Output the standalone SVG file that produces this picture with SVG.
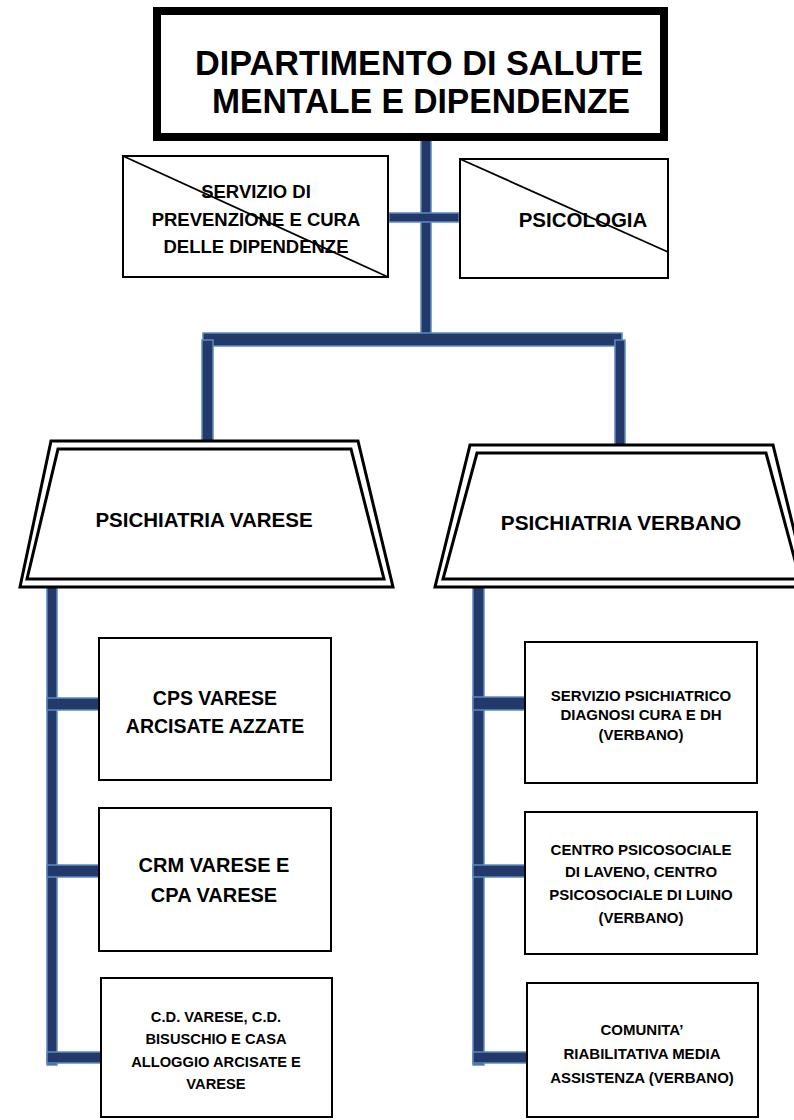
<svg xmlns="http://www.w3.org/2000/svg" width="794" height="1120" viewBox="0 0 794 1120">
<style>
.t{font-family:"Liberation Sans",Arial,sans-serif;font-weight:bold;fill:#000;text-anchor:middle}
.box{fill:#fff;stroke:#000;stroke-width:2}
.bar{fill:#23396a;stroke:#5b8ac0;stroke-width:1.5}
.trap{fill:none;stroke:#000;stroke-width:3}
.diag{stroke:#000;stroke-width:1.8}
</style>
<rect width="794" height="1120" fill="#fff"/>
<g id="connectors">
<rect class="bar" x="421" y="138" width="10" height="197"/>
<rect class="bar" x="389" y="213" width="70" height="9"/>
<rect class="bar" x="203" y="333" width="419" height="13"/>
<rect class="bar" x="202" y="340" width="11" height="104"/>
<rect class="bar" x="615" y="340" width="10" height="109"/>
<rect class="bar" x="47" y="586" width="10" height="479"/>
<rect class="bar" x="47" y="698" width="52" height="12"/>
<rect class="bar" x="47" y="865" width="52" height="12"/>
<rect class="bar" x="47" y="1052" width="54" height="11"/>
<rect class="bar" x="473" y="586" width="11" height="479"/>
<rect class="bar" x="473" y="697" width="52" height="13"/>
<rect class="bar" x="473" y="865" width="52" height="12"/>
<rect class="bar" x="473" y="1052" width="54" height="11"/>
</g>
<g id="dipartimento">
<rect x="157" y="11" width="507" height="126" fill="#fff" stroke="#000" stroke-width="8"/>
<text class="t" x="419" y="75" font-size="35" textLength="448" lengthAdjust="spacingAndGlyphs">DIPARTIMENTO DI SALUTE</text>
<text class="t" x="421" y="113" font-size="35" textLength="418" lengthAdjust="spacingAndGlyphs">MENTALE E DIPENDENZE</text>
</g>
<g id="servizio-dipendenze">
<rect class="box" x="123" y="156" width="265" height="121"/>
<line class="diag" x1="123" y1="156" x2="388" y2="277"/>
<text class="t" x="256" y="198" font-size="18.5">SERVIZIO DI</text>
<text class="t" x="256" y="226" font-size="18.5">PREVENZIONE E CURA</text>
<text class="t" x="256" y="253" font-size="18.5">DELLE DIPENDENZE</text>
</g>
<g id="psicologia">
<rect class="box" x="460" y="159" width="208" height="119"/>
<line class="diag" x1="460" y1="159" x2="668" y2="252"/>
<text class="t" x="583" y="227" font-size="20.5">PSICOLOGIA</text>
</g>
<g id="psichiatria-varese">
<polygon points="51,441 358,441 393,587 20,587" fill="#fff" stroke="none"/>
<polygon class="trap" points="51,441 358,441 393,587 20,587"/>
<polygon class="trap" points="58,449 351,449 384,579 27,579"/>
<text class="t" x="204" y="527" font-size="20.5">PSICHIATRIA VARESE</text>
</g>
<g id="psichiatria-verbano">
<polygon points="470,445 773,445 808,587 435,587" fill="#fff" stroke="none"/>
<polygon class="trap" points="470,445 773,445 808,587 435,587"/>
<polygon class="trap" points="477,453 766,453 800,579 443,579"/>
<text class="t" x="621" y="530" font-size="20.8">PSICHIATRIA VERBANO</text>
</g>
<g id="cps-varese">
<rect class="box" x="99" y="638" width="232" height="142"/>
<text class="t" x="215" y="705" font-size="19.5">CPS VARESE</text>
<text class="t" x="215" y="733" font-size="19.5">ARCISATE AZZATE</text>
</g>
<g id="crm-varese">
<rect class="box" x="99" y="808" width="232" height="143"/>
<text class="t" x="214" y="872" font-size="20">CRM VARESE E</text>
<text class="t" x="214" y="902" font-size="20">CPA VARESE</text>
</g>
<g id="cd-varese">
<rect class="box" x="101" y="978" width="231" height="139"/>
<text class="t" x="216" y="1022" font-size="14.7">C.D. VARESE, C.D.</text>
<text class="t" x="216" y="1044" font-size="14.7">BISUSCHIO E CASA</text>
<text class="t" x="216" y="1067" font-size="14.7">ALLOGGIO ARCISATE E</text>
<text class="t" x="216" y="1089" font-size="14.7">VARESE</text>
</g>
<g id="spdc-verbano">
<rect class="box" x="525" y="642" width="232" height="141"/>
<text class="t" x="641" y="701" font-size="15">SERVIZIO PSICHIATRICO</text>
<text class="t" x="641" y="720" font-size="15">DIAGNOSI CURA E DH</text>
<text class="t" x="641" y="740" font-size="15">(VERBANO)</text>
</g>
<g id="cps-verbano">
<rect class="box" x="525" y="812" width="232" height="142"/>
<text class="t" x="641" y="855" font-size="15">CENTRO PSICOSOCIALE</text>
<text class="t" x="641" y="877" font-size="15">DI LAVENO, CENTRO</text>
<text class="t" x="641" y="900" font-size="15">PSICOSOCIALE DI LUINO</text>
<text class="t" x="641" y="923" font-size="15">(VERBANO)</text>
</g>
<g id="comunita-verbano">
<rect class="box" x="527" y="983" width="231" height="134"/>
<text class="t" x="642" y="1035" font-size="15">COMUNITA’</text>
<text class="t" x="642" y="1059" font-size="15">RIABILITATIVA MEDIA</text>
<text class="t" x="642" y="1083" font-size="15">ASSISTENZA (VERBANO)</text>
</g>
</svg>
